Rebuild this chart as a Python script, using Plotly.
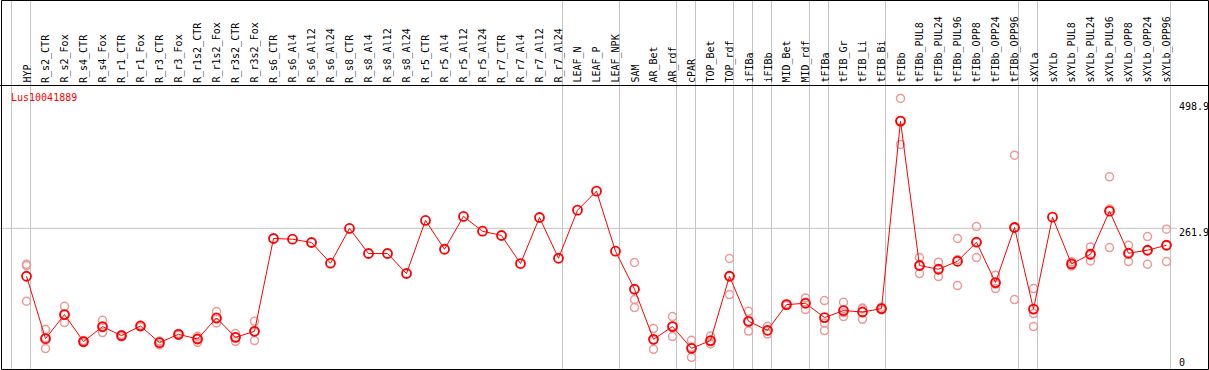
import plotly.graph_objects as go

categories = ["HYP", "R_s2_CTR", "R_s2_Fox", "R_s4_CTR", "R_s4_Fox", "R_r1_CTR", "R_r1_Fox",
              "R_r3_CTR", "R_r3_Fox", "R_r1s2_CTR", "R_r1s2_Fox", "R_r3s2_CTR", "R_r3s2_Fox",
              "R_s6_CTR", "R_s6_Al4", "R_s6_Al12", "R_s6_Al24", "R_s8_CTR", "R_s8_Al4", "R_s8_Al12",
              "R_s8_Al24", "R_r5_CTR", "R_r5_Al4", "R_r5_Al12", "R_r5_Al24", "R_r7_CTR", "R_r7_Al4",
              "R_r7_Al12", "R_r7_Al24", "LEAF_N", "LEAF_P", "LEAF_NPK", "SAM", "AR_Bet", "AR_rdf",
              "cPAR", "TOP_Bet", "TOP_rdf", "iFIBa", "iFIBb", "MID_Bet", "MID_rdf", "tFIBa",
              "tFIB_Gr", "tFIB_Li", "tFIB_Bi", "tFIBb", "tFIBb_PUL8", "tFIBb_PUL24", "tFIBb_PUL96",
              "tFIBb_OPP8", "tFIBb_OPP24", "tFIBb_OPP96", "sXYLa", "sXYLb", "sXYLb_PUL8",
              "sXYLb_PUL24", "sXYLb_PUL96", "sXYLb_OPP8", "sXYLb_OPP24", "sXYLb_OPP96"]

mean_values = [174.4, 60.6, 104.5, 55.2, 82.6, 66.1, 83.7, 53.3, 68.5, 59.9, 98.3, 63.0, 74.0,
               243.3, 242.0, 236.0, 198.2, 261.6, 215.9, 215.9, 179.4, 276.2, 223.7, 283.5, 256.6,
               248.8, 197.6, 281.6, 207.3, 295.0, 329.7, 220.1,
               150.7, 59.4, 82.6, 42.9, 57.0, 174.4, 92.2, 75.8, 122.7, 125.1, 99.0, 111.8, 109.2,
               115.4, 457.5, 194.0, 187.2, 201.8, 236.5, 162.9, 263.4, 114.5, 282.2, 196.9,
               214.6, 293.2, 216.4, 221.9, 231.0]

N = None
rep1 = [196.3, 77.1, 119.6, 57.0, 94.1, 68.0, 85.0, 56.3, 70.0, 64.8, 110.0, 69.8, 92.2,
        N, N, N, N, N, N, N, N, N, N, N, N, N, N, N, N, N, N, N,
        199.5, 78.9, 100.8, 57.5, 65.4, 206.8, 110.5, 83.1, 124.0, 134.8, 130.0, 126.9, 116.5,
        118.0, 498.9, 208.6, 200.0, 243.3, 265.2, 176.3, 395.4, 152.0, N, 201.0,
        228.0, 355.8, 231.0, 246.9, 260.3]
rep2 = [194.0, 42.4, 89.9, 53.3, 71.6, 64.0, 82.0, 49.0, 67.0, 53.9, 89.1, 55.7, 57.0,
        N, N, N, N, N, N, N, N, N, N, N, N, N, N, N, N, N, N, N,
        131.9, 41.1, 64.3, 26.5, 50.8, 141.0, 74.5, 69.0, 121.0, 113.6, 89.1, 100.8, 95.9,
        113.0, 415.0, 179.4, 173.9, 157.4, 208.6, 152.0, 131.9, 106.3, N, 193.0,
        202.4, 226.8, 201.2, 196.3, 201.2]
rep3 = [128.8, 62.0, 104.0, 55.0, 82.0, 66.0, 84.0, 54.0, 68.0, 61.0, 96.0, 63.0, 73.0,
        N, N, N, N, N, N, N, N, N, N, N, N, N, N, N, N, N, N, N,
        117.3, 58.0, 83.0, 45.0, 55.0, 175.0, 92.0, 75.0, 123.0, 127.0, 75.3, 108.0, 115.0,
        115.0, 458.0, 194.0, 188.0, 205.0, 236.0, 160.0, 263.0, 82.6, N, 197.0,
        213.0, 297.0, 217.0, 222.0, 231.0]

gene_name = "Lus10041889"
tick_labels = ["498.9", "261.9", "0"]
tick_values = [498.9, 261.9, 0.0]
group_ends = [-1, 0, 28, 31, 34, 35, 37, 38, 39, 41, 42, 45, 52, 53, 60]

W, H = 1209, 370
x_idx = list(range(len(categories)))
MONO = "DejaVu Sans Mono"

fig = go.Figure()

# replicate points
rx, ry = [], []
for reps in (rep1, rep2, rep3):
    for i, v in enumerate(reps):
        if v is not None:
            rx.append(i)
            ry.append(v)
fig.add_trace(go.Scatter(x=rx, y=ry, mode="markers",
                         marker=dict(symbol="circle-open", size=8, color="#EE9898",
                                     line=dict(width=1.5)),
                         hoverinfo="skip", showlegend=False))

# mean line
fig.add_trace(go.Scatter(x=x_idx, y=mean_values, mode="lines+markers",
                         line=dict(color="#FF0000", width=1),
                         marker=dict(symbol="circle-open", size=9, color="#FF0000",
                                     line=dict(width=1.8)),
                         text=categories, showlegend=False))

shapes = []
# group separators
for e in group_ends:
    shapes.append(dict(type="line", xref="x", yref="paper", x0=e + 0.21, x1=e + 0.21,
                       y0=0, y1=1, line=dict(color="#C4C4C4", width=1), layer="below"))
# horizontal reference line
shapes.append(dict(type="line", xref="paper", yref="y", x0=0, x1=1177 / W,
                   y0=tick_values[1], y1=tick_values[1],
                   line=dict(color="#C4C4C4", width=1), layer="below"))
# header separator
shapes.append(dict(type="line", xref="paper", yref="paper", x0=0, x1=1,
                   y0=1 - 85.5 / H, y1=1 - 85.5 / H, line=dict(color="black", width=1)))
# border
shapes.append(dict(type="rect", xref="paper", yref="paper", x0=1.5 / W, x1=1 - 0.5 / W,
                   y0=0.5 / H, y1=1 - 0.5 / H, line=dict(color="black", width=1)))

annotations = []
for i, c in enumerate(categories):
    annotations.append(dict(x=i, y=1 - 85 / H, xref="x", yref="paper", text=c,
                            textangle=-90, showarrow=False, xanchor="center",
                            yanchor="bottom", font=dict(family=MONO, size=10, color="black")))
annotations.append(dict(x=9 / W, y=1 - 97 / H, xref="paper", yref="paper", text=gene_name,
                        showarrow=False, xanchor="left", yanchor="middle",
                        font=dict(family=MONO, size=10, color="#FF0000")))
annotations.append(dict(x=1177 / W, y=tick_values[0], xref="paper", yref="y",
                        text=tick_labels[0], showarrow=False, xanchor="left",
                        yanchor="middle", yshift=-8,
                        font=dict(family=MONO, size=10, color="black")))
annotations.append(dict(x=1177 / W, y=tick_values[1], xref="paper", yref="y",
                        text=tick_labels[1], showarrow=False, xanchor="left",
                        yanchor="middle", yshift=-4,
                        font=dict(family=MONO, size=10, color="black")))
annotations.append(dict(x=1177 / W, y=1 - 362 / H, xref="paper", yref="paper",
                        text=tick_labels[2], showarrow=False, xanchor="left",
                        yanchor="middle", font=dict(family=MONO, size=10, color="black")))

# pixel mapping: category i at px 26.5 + 19 i ; value v at px 371.85 - 0.5481 v
x0 = -26.5 / 19
x1 = x0 + W / 19
y_top = 371.85 / 0.5481
y_bot = (371.85 - H) / 0.5481

fig.update_layout(width=W, height=H, margin=dict(l=0, r=0, t=0, b=0),
                  paper_bgcolor="white", plot_bgcolor="white",
                  shapes=shapes, annotations=annotations,
                  xaxis=dict(range=[x0, x1], visible=False, showgrid=False, zeroline=False),
                  yaxis=dict(range=[y_bot, y_top], visible=False, showgrid=False, zeroline=False))

fig.write_html("out.html", config={"displayModeBar": False},
               post_script="document.body.style.margin='0';document.body.style.overflow='hidden';")
